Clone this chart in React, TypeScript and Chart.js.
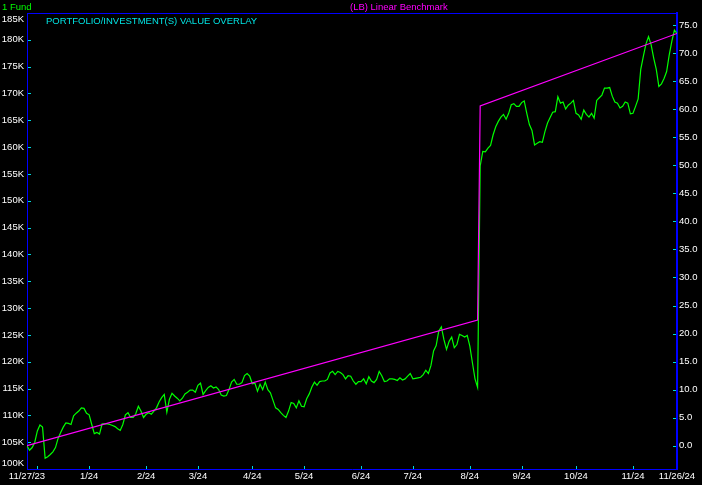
import { useEffect, useRef } from "react";
import { Chart, registerables } from "chart.js";

Chart.register(...registerables);

// Fund value in $K, one value per trading day (day 0 = 11/27/23, day 251 = 11/26/24)
const fundValues = [
  104.3, 103.5, 104.0, 105.0, 107.1, 108.2, 107.8, 102.0, 102.3, 102.7,
  103.2, 104.0, 105.7, 106.8, 107.8, 108.6, 108.5, 108.3, 109.9, 110.4,
  110.8, 111.4, 111.3, 110.4, 110.1, 108.3, 106.6, 106.8, 106.5, 108.4,
  108.4, 108.4, 108.3, 108.1, 107.9, 107.5, 107.2, 108.3, 110.1, 110.5,
  109.6, 109.6, 110.3, 111.7, 110.8, 109.6, 110.2, 110.5, 110.2, 110.8,
  111.4, 112.5, 113.3, 113.9, 110.6, 113.0, 114.1, 113.6, 113.2, 112.7,
  113.2, 114.0, 114.3, 114.7, 114.7, 114.3, 115.6, 116.0, 113.9, 114.6,
  115.2, 115.5, 115.1, 115.3, 114.8, 113.8, 113.6, 113.7, 114.8, 116.2,
  116.7, 115.8, 115.8, 116.1, 117.4, 117.8, 117.3, 115.9, 116.0, 114.5,
  115.8, 114.8, 116.2, 114.8, 114.2, 112.8, 111.4, 111.1, 110.5, 110.0,
  109.6, 110.8, 112.4, 112.2, 111.4, 112.7, 111.7, 111.6, 113.1, 114.0,
  115.3, 116.2, 115.6, 116.3, 116.4, 116.4, 116.7, 117.9, 118.2, 117.6,
  118.2, 118.0, 117.6, 116.8, 117.4, 117.3, 116.4, 115.8, 116.3, 116.3,
  116.8, 115.9, 117.2, 116.4, 116.1, 116.7, 118.2, 117.4, 116.3, 116.4,
  116.8, 116.8, 116.7, 116.5, 117.0, 116.6, 116.8, 117.3, 117.8, 116.8,
  116.9, 117.0, 117.1, 117.6, 118.4, 117.8, 119.3, 122.0, 123.0, 125.7,
  126.5, 124.1, 122.3, 123.8, 124.6, 122.6, 123.2, 125.1, 124.9, 124.6,
  124.9, 122.9, 119.8, 116.8, 115.2, 156.5, 159.2, 159.1, 159.8, 160.3,
  162.3, 163.8, 164.8, 165.6, 166.1, 165.2, 166.3, 167.9, 168.1, 167.6,
  167.6, 168.3, 168.6, 166.3, 164.2, 163.1, 160.4, 160.7, 161.0, 160.9,
  162.9, 164.5, 165.5, 166.5, 166.6, 169.4, 168.2, 168.4, 167.1, 167.8,
  168.2, 168.7, 166.3, 166.0, 165.2, 166.9, 166.1, 165.6, 166.3, 165.4,
  168.7, 169.2, 169.7, 171.0, 171.0, 171.1, 169.5, 168.4, 168.2, 167.3,
  167.6, 168.4, 168.2, 166.2, 166.3, 167.6, 169.0, 174.5, 176.9, 179.2,
  180.6, 179.1, 176.6, 174.5, 171.3, 171.8, 172.8, 174.1, 177.2, 179.7,
  181.8, 181.2,
];

// Linear benchmark (right axis, % gain) at its break points
const benchDays = [0, 174, 175, 251];
const benchValues = [0.0, 22.4, 60.6, 73.5];

// X-axis ticks (trading-day index) and labels
const xTickDays = [0, 4, 24, 46, 66, 87, 107, 129, 149, 171, 191, 212, 234, 251];
const xTickLabels = [
  "11/27/23", "", "1/24", "2/24", "3/24", "4/24", "5/24", "6/24",
  "7/24", "8/24", "9/24", "10/24", "11/24", "11/26/24",
];

const leftTicks = [100, 105, 110, 115, 120, 125, 130, 135, 140, 145, 150, 155, 160, 165, 170, 175, 180, 185];
const rightTicks = [0, 5, 10, 15, 20, 25, 30, 35, 40, 45, 50, 55, 60, 65, 70, 75];

const FONT = { family: "'Liberation Sans', Arial, sans-serif", size: 9.5 };
const BLUE = "#0000ff";
const CYAN = "#00d8d8";

const decorPlugin = {
  id: "decor",
  afterDraw(chart: any) {
    const { ctx, chartArea } = chart;
    const { left, right, top, bottom } = chartArea;
    ctx.save();
    // top border
    ctx.strokeStyle = BLUE;
    ctx.lineWidth = 1;
    ctx.beginPath();
    ctx.moveTo(left, Math.round(top) + 0.5);
    ctx.lineTo(right, Math.round(top) + 0.5);
    ctx.stroke();
    // inward tick marks
    ctx.strokeStyle = CYAN;
    const y = chart.scales.y;
    const y1 = chart.scales.y1;
    const x = chart.scales.x;
    ctx.beginPath();
    leftTicks.forEach((v) => {
      const py = Math.round(y.getPixelForValue(v)) + 0.5;
      if (py > top + 2 && py < bottom - 2) {
        ctx.moveTo(left + 1, py);
        ctx.lineTo(left + 4, py);
      }
    });
    rightTicks.forEach((v) => {
      const py = Math.round(y1.getPixelForValue(v)) + 0.5;
      ctx.moveTo(right - 4, py);
      ctx.lineTo(right - 1, py);
    });
    xTickDays.forEach((d, i) => {
      if (i === 0 || i === xTickDays.length - 1) return;
      const px = Math.round(x.getPixelForValue(d)) + 0.5;
      ctx.moveTo(px, bottom - 3);
      ctx.lineTo(px, bottom);
    });
    ctx.stroke();
    // texts
    ctx.font = `${FONT.size}px ${FONT.family}`;
    ctx.textBaseline = "middle";
    // left axis labels, kept inside the plot's height
    ctx.textAlign = "right";
    ctx.fillStyle = "#ffffff";
    leftTicks.forEach((v) => {
      const py = Math.min(Math.max(y.getPixelForValue(v), top + 6.5), bottom - 6);
      ctx.fillText(`${v}K`, left - 3, py);
    });
    ctx.textAlign = "left";
    ctx.fillStyle = "#00ff00";
    ctx.fillText("1 Fund", 2, 7);
    ctx.fillStyle = "#ff00ff";
    ctx.fillText("(LB) Linear Benchmark", 350, 7);
    ctx.fillStyle = "#00e5e5";
    ctx.fillText("PORTFOLIO/INVESTMENT(S) VALUE OVERLAY", 46, 21);
    ctx.restore();
  },
};

export default function App() {
  const canvasRef = useRef<HTMLCanvasElement | null>(null);

  useEffect(() => {
    const canvas = canvasRef.current;
    if (!canvas) return;
    const chart = new Chart(canvas, {
      type: "line",
      data: {
        datasets: [
          {
            label: "1 Fund",
            data: fundValues.map((v, i) => ({ x: i, y: v })),
            borderColor: "#00ff00",
            borderWidth: 1.2,
            pointRadius: 0,
            tension: 0,
            yAxisID: "y",
            order: 2,
          },
          {
            label: "(LB) Linear Benchmark",
            data: benchDays.map((d, i) => ({ x: d, y: benchValues[i] })),
            borderColor: "#ff00ff",
            borderWidth: 1.2,
            pointRadius: 0,
            tension: 0,
            yAxisID: "y1",
            order: 1,
          },
        ],
      },
      options: {
        responsive: false,
        animation: false,
        devicePixelRatio: 1,
        layout: { padding: { top: 13, left: 0, right: 0, bottom: 0 } },
        plugins: { legend: { display: false }, tooltip: { enabled: false } },
        scales: {
          x: {
            type: "linear",
            min: 0,
            max: 251,
            grid: { display: false, drawTicks: false },
            border: { display: true, color: BLUE, width: 1 },
            afterBuildTicks: (scale: any) => {
              scale.ticks = xTickDays.map((v) => ({ value: v }));
            },
            afterFit: (scale: any) => {
              scale.height = 16;
            },
            ticks: {
              autoSkip: false,
              maxRotation: 0,
              minRotation: 0,
              color: "#ffffff",
              font: FONT,
              padding: 2,
              callback: (v: any) => {
                const i = xTickDays.indexOf(Number(v));
                return i >= 0 ? xTickLabels[i] : "";
              },
            },
          },
          y: {
            type: "linear",
            position: "left",
            min: 100,
            max: 185,
            grid: { display: false, drawTicks: false },
            border: { display: true, color: BLUE, width: 1 },
            afterBuildTicks: (scale: any) => {
              scale.ticks = leftTicks.map((v) => ({ value: v }));
            },
            afterFit: (scale: any) => {
              scale.width = 27;
            },
            ticks: { display: false },
          },
          y1: {
            type: "linear",
            position: "right",
            min: -4.15,
            max: 77.15,
            grid: { display: false, drawTicks: false },
            border: { display: true, color: BLUE, width: 2 },
            afterBuildTicks: (scale: any) => {
              scale.ticks = rightTicks.map((v) => ({ value: v }));
            },
            afterFit: (scale: any) => {
              scale.width = 25;
            },
            ticks: {
              color: "#ffffff",
              font: FONT,
              padding: 2,
              callback: (v: any) => Number(v).toFixed(1),
            },
          },
        },
      },
      plugins: [decorPlugin],
    } as any);
    return () => chart.destroy();
  }, []);

  return (
    <div
      style={{
        position: "fixed",
        left: 0,
        top: 0,
        width: 702,
        height: 485,
        background: "#000000",
      }}
    >
      <canvas ref={canvasRef} width={702} height={485} style={{ display: "block" }} />
    </div>
  );
}
